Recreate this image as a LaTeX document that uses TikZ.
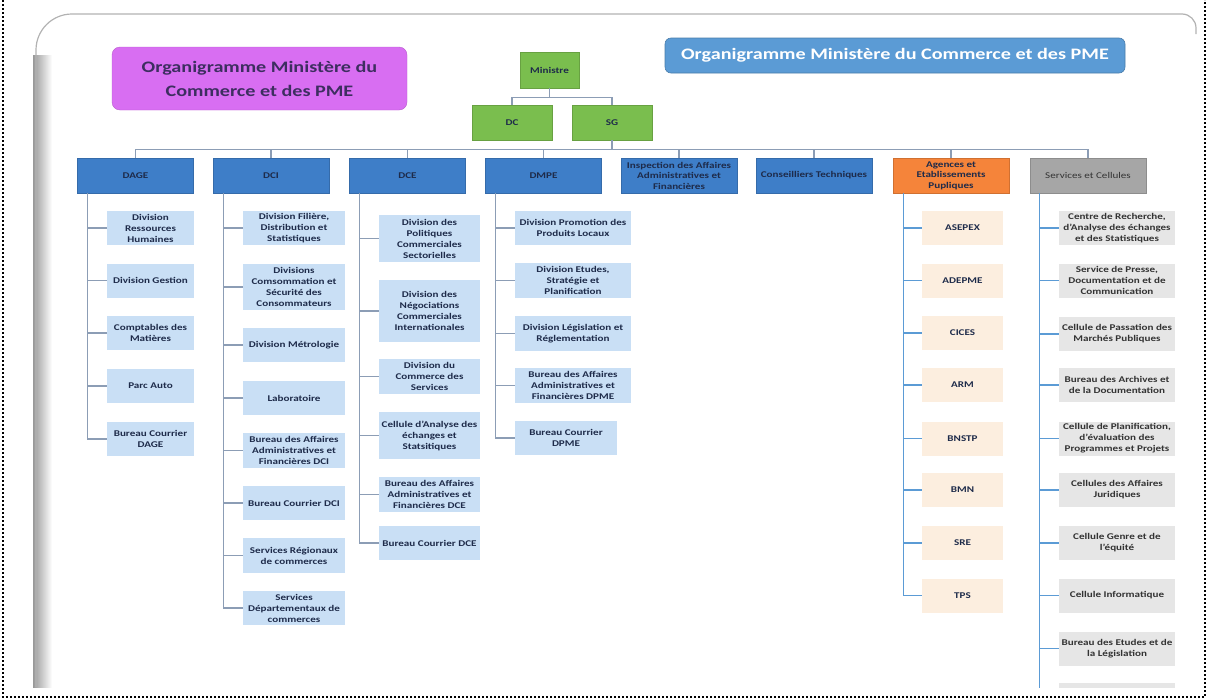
\documentclass[tikz,border=0pt]{standalone}
\usepackage{fontspec}
\setmainfont{Carlito}[FakeStretch=1.26]
\definecolor{boxblue}{RGB}{62,126,200}
\definecolor{lblue}{RGB}{201,223,245}
\definecolor{mgreen}{RGB}{122,190,78}
\definecolor{morange}{RGB}{245,132,58}
\definecolor{mgray}{RGB}{166,166,166}
\definecolor{peach}{RGB}{252,238,223}
\definecolor{lgraybox}{RGB}{230,230,230}
\definecolor{linegray}{RGB}{140,157,181}
\definecolor{lineblue}{RGB}{91,155,213}
\definecolor{purp}{RGB}{216,110,242}
\definecolor{titleblue}{RGB}{91,155,213}
\definecolor{navy}{RGB}{30,43,74}
\definecolor{ptext}{RGB}{61,46,96}
\tikzset{
  base/.style={inner xsep=1pt, inner ysep=0pt, align=center, text=navy, font=\bfseries\fontsize{8.8}{11}\selectfont},
  topbox/.style={base, fill=boxblue, draw=boxblue!85!black, line width=0.4pt, minimum width=116pt, minimum height=35pt},
  gbox/.style={base, fill=mgreen, draw=mgreen!85!black, line width=0.4pt, minimum width=80pt, minimum height=35pt},
  subA/.style={base, fill=lblue, minimum width=87pt, minimum height=34pt},
  subB/.style={base, fill=lblue, minimum width=102pt, minimum height=34pt},
  subC/.style={base, fill=lblue, minimum width=101pt, minimum height=35pt},
  subD/.style={base, fill=lblue, minimum width=116pt, minimum height=35pt},
  subE/.style={base, fill=peach, minimum width=81pt, minimum height=34pt},
  subF/.style={base, fill=lgraybox, text=black!80, minimum width=116pt, minimum height=34pt},
  conn/.style={draw=linegray, line width=1.3pt},
  connb/.style={draw=lineblue, line width=1.3pt},
}
\begin{document}
\begin{tikzpicture}[x=1pt,y=-1pt]
\useasboundingbox (0,0) rectangle (1207,699);
% outer dotted border
\draw[black, line width=2pt, dash pattern=on 2pt off 2pt] (3,0) -- (3,697) -- (1205,697) -- (1205,0);
% inner frame
\shade[left color=black!40, right color=white] (33,55) rectangle (52,687);
\draw[black!30, line width=1.2pt] (36,687) [rounded corners=36pt] -- (36,14) [rounded corners=14pt] -- (1196,14) [sharp corners] -- (1196,34);

% titles
\node[fill=purp, draw=purp!85!black, line width=0.4pt, rounded corners=8pt, minimum width=295pt, minimum height=63pt, align=center, text=ptext, font=\bfseries\fontsize{16}{24}\selectfont] (t1) at (259.5,78.5) {Organigramme Ministère du\\Commerce et des PME};
\node[fill=titleblue, draw=titleblue!80!black, line width=0.6pt, rounded corners=6pt, minimum width=460pt, minimum height=35pt, text=white, font=\bfseries\fontsize{16}{20}\selectfont] (t2) at (895,55.5) {Organigramme Ministère du Commerce et des PME};

% top
\node[gbox, minimum width=59pt, minimum height=36pt] (min) at (549.5,70) {Ministre};
\node[gbox] (dc) at (512,122.5) {DC};
\node[gbox] (sg) at (612,122.5) {SG};
\draw[conn] (min.south) -- ++(0,9) -| (dc.north);
\draw[conn] (min.south) -- ++(0,9) -| (sg.north);

% level 2
\node[topbox] (dage) at (135.5,175.5) {DAGE};
\node[topbox] (dci) at (271,175.5) {DCI};
\node[topbox] (dce) at (407.5,175.5) {DCE};
\node[topbox] (dmpe) at (543.5,175.5) {DMPE};
\node[topbox, font=\bfseries\fontsize{8.8}{10.5}\selectfont] (insp) at (679,175.5) {Inspection des Affaires\\Administratives et\\Financières};
\node[topbox] (cons) at (814,175.5) {Conseilliers Techniques};
\node[topbox, fill=morange, draw=morange!85!black, font=\bfseries\fontsize{8.8}{10.5}\selectfont] (agen) at (951,175.5) {Agences et\\Etablissements\\Pupliques};
\node[topbox, fill=mgray, draw=mgray!85!black, text=black!80, font=\fontsize{8.8}{11}\selectfont] (serv) at (1088,175.5) {Services et Cellules};
\foreach \t in {dage,dci,dce,dmpe,insp,cons,agen,serv}
  \draw[conn] (sg.south) -- ++(0,9) -| (\t.north);

% DAGE
\node[subA] (a1) at (150.5,228) {Division\\Ressources\\Humaines};
\node[subA] (a2) at (150.5,280.5) {Division Gestion};
\node[subA] (a3) at (150.5,333) {Comptables des\\Matières};
\node[subA] (a4) at (150.5,386) {Parc Auto};
\node[subA] (a5) at (150.5,439) {Bureau Courrier\\DAGE};
\foreach \c in {a1,a2,a3,a4,a5}
  \draw[conn] (dage.south west) ++(10.5,0) |- (\c.west);

% DCI
\node[subB] (b1) at (294,228) {Division Filière,\\Distribution et\\Statistiques};
\node[subB, minimum height=46pt] (b2) at (294,287) {Divisions\\Comsommation et\\Sécurité des\\Consommateurs};
\node[subB] (b3) at (294,345) {Division Métrologie};
\node[subB] (b4) at (294,398) {Laboratoire};
\node[subB, minimum height=35pt] (b5) at (294,450.5) {Bureau des Affaires\\Administratives et\\Financières DCI};
\node[subB] (b6) at (294,503) {Bureau Courrier DCI};
\node[subB, minimum height=35pt] (b7) at (294,555.5) {Services Régionaux\\de commerces};
\node[subB] (b8) at (294,608) {Services\\Départementaux de\\commerces};
\foreach \c in {b1,b2,b3,b4,b5,b6,b7,b8}
  \draw[conn] (dci.south west) ++(10.5,0) |- (\c.west);

% DCE
\node[subC, minimum height=47pt] (c1) at (429.5,238.5) {Division des\\Politiques\\Commerciales\\Sectorielles};
\node[subC, minimum height=62pt] (c2) at (429.5,311) {Division des\\Négociations\\Commerciales\\Internationales};
\node[subC] (c3) at (429.5,376.5) {Division du\\Commerce des\\Services};
\node[subC, minimum height=47pt] (c4) at (429.5,435.5) {Cellule d'Analyse des\\échanges et\\Statsitiques};
\node[subC] (c5) at (429.5,494.5) {Bureau des Affaires\\Administratives et\\Financières DCE};
\node[subC, minimum height=34pt] (c6) at (429.5,543) {Bureau Courrier DCE};
\foreach \c in {c1,c2,c3,c4,c5,c6}
  \draw[conn] (dce.south west) ++(10.5,0) |- (\c.west);

% DMPE
\node[subD, minimum height=34pt] (d1) at (573,228) {Division Promotion des\\Produits Locaux};
\node[subD] (d2) at (573,280.5) {Division Etudes,\\Stratégie et\\Planification};
\node[subD] (d3) at (573,333.5) {Division Législation et\\Réglementation};
\node[subD] (d4) at (573,385.5) {Bureau des Affaires\\Administratives et\\Financières DPME};
\node[subD, minimum width=102pt, minimum height=34pt] (d5) at (566,438) {Bureau Courrier\\DPME};
\foreach \c in {d1,d2,d3,d4,d5}
  \draw[conn] (dmpe.south west) ++(10,0) |- (\c.west);

% Agences
\node[subE] (e1) at (962.5,228) {ASEPEX};
\node[subE] (e2) at (962.5,280.5) {ADEPME};
\node[subE] (e3) at (962.5,333) {CICES};
\node[subE] (e4) at (962.5,385) {ARM};
\node[subE] (e5) at (962.5,438.5) {BNSTP};
\node[subE] (e6) at (962.5,490) {BMN};
\node[subE] (e7) at (962.5,543) {SRE};
\node[subE] (e8) at (962.5,595.5) {TPS};
\foreach \c in {e1,e2,e3,e4,e5,e6,e7,e8}
  \draw[connb] (agen.south west) ++(11,0) |- (\c.west);

% Services et Cellules
\begin{scope}
\clip (0,0) rectangle (1207,687);
\node[subF] (f1) at (1117,228) {Centre de Recherche,\\d'Analyse des échanges\\et des Statistiques};
\node[subF] (f2) at (1117,280.5) {Service de Presse,\\Documentation et de\\Communication};
\node[subF] (f3) at (1117,334) {Cellule de Passation des\\Marchés Publiques};
\node[subF] (f4) at (1117,385) {Bureau des Archives et\\de la Documentation};
\node[subF] (f5) at (1117,438.5) {Cellule de Planification,\\d'évaluation des\\Programmes et Projets};
\node[subF] (f6) at (1117,490) {Cellules des Affaires\\Juridiques};
\node[subF] (f7) at (1117,543) {Cellule Genre et de\\l'équité};
\node[subF] (f8) at (1117,595.5) {Cellule Informatique};
\node[subF] (f9) at (1117,648.5) {Bureau des Etudes et de\\la Législation};
\node[subF] (f10) at (1117,700) {};
\foreach \c in {f1,f2,f3,f4,f5,f6,f7,f8,f9,f10}
  \draw[connb] (serv.south west) ++(9.5,0) |- (\c.west);
\end{scope}
\end{tikzpicture}
\end{document}
